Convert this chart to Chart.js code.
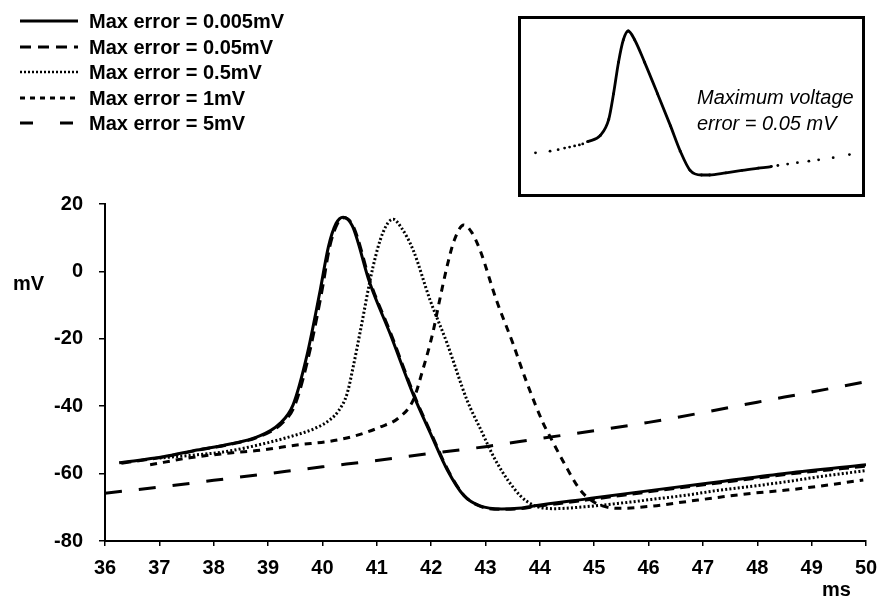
<!DOCTYPE html>
<html>
<head>
<meta charset="utf-8">
<script src="https://cdn.jsdelivr.net/npm/chart.js@4.4.1/dist/chart.umd.min.js"></script>
<style>
  html, body { margin:0; padding:0; background:#fff; }
  #wrap { position:relative; width:877px; height:596px; overflow:hidden; font-family:"Liberation Sans", Arial, sans-serif; }
  #main { position:absolute; left:0; top:0; }
  .lbl { position:absolute; font-weight:bold; font-size:20px; color:#000; white-space:nowrap; line-height:20px; }
  .leg { position:absolute; left:0; height:24px; width:300px; }
  .leg svg { position:absolute; left:0; top:0; }
  .leg span { position:absolute; left:89px; top:2px; font-weight:bold; font-size:20px; line-height:20px; white-space:nowrap; }
  #insetBox { position:absolute; left:518px; top:16px; width:341px; height:175px; border:3px solid #000; background:#fff; }
  #insetBox canvas { position:absolute; left:0; top:0; }
  .it { position:absolute; font-style:italic; font-size:20px; line-height:22px; white-space:nowrap; color:#000; }
</style>
</head>
<body>
<div id="wrap">
  <canvas id="main" width="877" height="596"></canvas>
  <div id="legend"></div>
  <div class="lbl" style="left:13px; top:273px;">mV</div>
  <div class="lbl" style="left:822px; top:579px;">ms</div>
  <div id="insetBox"><canvas id="inset" width="341" height="175"></canvas></div>
  <div class="it" style="left:697px; top:86px;">Maximum voltage</div>
  <div class="it" style="left:697px; top:112px;">error = 0.05 mV</div>
</div>
<script>
// ---- Data ----
const xTicks = [36,37,38,39,40,41,42,43,44,45,46,47,48,49,50];
const yTicks = [-80,-60,-40,-20,0,20];

const seriesNames = ["Max error = 0.005mV","Max error = 0.05mV","Max error = 0.5mV","Max error = 1mV","Max error = 5mV"];

// 0.005 mV (solid)
const t005 = [36.26,37.07,37.69,38.3,38.79,39.22,39.46,39.71,39.96,40.11,40.25,40.38,40.55,40.87,41.24,41.67,42.0,42.3,42.6,42.9,43.3,43.6,43.88,44.86,46.09,47.31,48.54,50.0];
const v005 = [-56.8,-55.0,-53.0,-51.2,-49.2,-45.1,-39.6,-25.3,-5.5,7.3,14.2,16.1,13.5,-3.4,-18.3,-36.5,-48.5,-59.0,-66.5,-69.6,-70.5,-70.3,-69.6,-67.5,-64.9,-62.4,-59.9,-57.4];

// 0.05 mV (dashed, nearly on top of the solid trace)
const t05a = [36.3,37.07,37.69,38.3,38.79,39.24,39.49,39.74,39.99,40.13,40.27,40.4,40.57,40.89,41.26,41.69,42.02,42.32,42.62,42.92,43.32,43.62,43.9,44.88,46.1,47.32,48.55,50.0];
const v05a = [-56.9,-55.1,-53.1,-51.3,-49.3,-45.3,-39.8,-25.6,-5.9,7.0,14.0,15.9,13.3,-3.6,-18.5,-36.8,-48.8,-59.3,-66.7,-69.8,-70.6,-70.4,-69.8,-67.8,-65.2,-62.7,-60.2,-57.8];

// 0.5 mV (dotted)
const t5a = [37.0,37.7,38.17,38.6,39.35,39.9,40.14,40.3,40.45,40.57,40.69,40.93,41.11,41.3,41.45,41.67,41.98,42.29,42.66,42.9,43.2,43.63,43.9,44.25,44.86,45.47,46.09,46.7,47.31,47.93,48.54,49.15,50.0];
const v5a = [-55.4,-54.4,-53.6,-52.3,-49.3,-46.3,-44.0,-41.3,-36.5,-28.0,-18.3,1.3,11.4,15.5,13.0,6.3,-8.5,-21.2,-38.2,-46.5,-56.5,-66.4,-69.5,-70.4,-69.8,-68.8,-67.6,-66.4,-64.9,-63.7,-62.4,-60.9,-59.1];

// 1 mV (short dashes)
const t1 = [36.83,37.56,38.3,38.9,39.53,40.14,40.6,41.06,41.4,41.67,41.85,42.03,42.15,42.29,42.42,42.6,42.75,42.9,43.2,43.5,43.76,44.06,44.19,44.45,44.74,44.95,45.2,45.47,46.09,46.7,47.31,47.93,48.54,49.15,49.95];
const v1 = [-57.4,-55.3,-53.9,-53.0,-51.5,-50.4,-48.8,-46.2,-43.5,-38.2,-29.0,-18.3,-9.0,1.3,9.0,13.8,11.5,6.3,-8.5,-21.2,-33.0,-45.0,-49.1,-57.0,-64.8,-68.0,-69.8,-70.3,-69.6,-68.3,-67.0,-65.8,-64.9,-63.7,-61.9];

// 5 mV (long dashes)
const t5 = [36.0,37.0,38.0,39.0,40.0,41.0,42.0,43.0,44.0,45.0,46.0,47.0,48.0,49.0,50.0];
const v5 = [-65.8,-64.0,-62.0,-60.0,-58.0,-56.1,-54.0,-52.0,-49.6,-47.3,-44.8,-41.9,-38.8,-35.8,-32.7];

// Inset: sampled points of the 0.05 mV trace
const tIn = [36.48,37.09,37.43,37.7,37.91,38.12,38.32,38.46,38.66,39.2,39.55,39.75,39.96,40.16,40.37,40.64,41.05,41.6,42.14,42.55,42.96,43.44,43.78,44.46,45.14,45.82,46.37,46.64,47.05,47.46,47.94,48.35,48.96,49.64];
const vIn = [-57.1,-56.1,-55.2,-54.2,-53.6,-52.9,-52.3,-51.7,-50.4,-46.6,-37.0,-21.7,-2.6,10.7,16.1,10.7,-2.6,-21.7,-40.9,-56.1,-67.6,-70.4,-70.4,-69.1,-67.6,-66.3,-65.3,-64.7,-63.8,-63.0,-62.1,-61.3,-60.0,-58.1];

// ---- Styles ----
const styles = [
  {w:3,   dash:[],      legDash:"",       legW:3},
  {w:3,   dash:[10,6],  legDash:"11 7",   legW:3},
  {w:3,   dash:[2,2.2], legDash:"2 2",    legW:2.5},
  {w:3,   dash:[7,6],   legDash:"5 5",    legW:3},
  {w:3,   dash:[17,17], legDash:"13 27",  legW:3}
];

function pts(t, v){ return t.map((x,i)=>({x:x, y:v[i]})); }
const allSeries = [[t005,v005],[t05a,v05a],[t5a,v5a],[t1,v1],[t5,v5]];

Chart.defaults.font.family = '"Liberation Sans", Arial, sans-serif';
Chart.defaults.color = '#000';

const datasets = allSeries.map((s,i)=>({
  label: seriesNames[i],
  data: pts(s[0], s[1]),
  borderColor:'#000',
  backgroundColor:'#000',
  borderWidth: styles[i].w,
  borderDash: styles[i].dash,
  pointRadius:0,
  fill:false,
  cubicInterpolationMode:'monotone',
  borderCapStyle:'butt'
}));

new Chart(document.getElementById('main'), {
  type:'line',
  data:{ datasets },
  options:{
    responsive:false,
    animation:false,
    events:[],
    layout:{ padding:{ top:204, left:0, right:11, bottom:0 } },
    plugins:{ legend:{display:false}, tooltip:{enabled:false} },
    scales:{
      x:{
        type:'linear', min:36, max:50,
        afterBuildTicks: sc => { sc.ticks = xTicks.map(v=>({value:v})); },
        afterFit: sc => { sc.height = 55; sc.paddingLeft = 0; sc.paddingRight = 0; },
        ticks:{ font:{size:20, weight:'bold'}, padding:10, maxRotation:0, autoSkip:false, color:'#000' },
        grid:{ drawOnChartArea:false, drawTicks:true, tickLength:5, color:'#000', lineWidth:1.5 },
        border:{ display:true, color:'#000', width:2 }
      },
      y:{
        type:'linear', min:-80, max:20,
        afterBuildTicks: sc => { sc.ticks = yTicks.map(v=>({value:v})); },
        afterFit: sc => { sc.width = 105; sc.paddingTop = 0; sc.paddingBottom = 0; },
        ticks:{ font:{size:20, weight:'bold'}, padding:16, color:'#000' },
        grid:{ drawOnChartArea:false, drawTicks:true, tickLength:6, color:'#000', lineWidth:1.5 },
        border:{ display:true, color:'#000', width:2 }
      }
    }
  }
});

// Inset chart
new Chart(document.getElementById('inset'), {
  type:'line',
  data:{ datasets:[{
    data: pts(tIn, vIn),
    borderColor:'#000',
    backgroundColor:'#000',
    borderWidth:2.8,
    pointRadius:1.4,
    pointBorderWidth:0,
    cubicInterpolationMode:'monotone',
    segment:{
      borderColor: c => (c.p0.parsed.x >= 38.6 && c.p1.parsed.x <= 46.4) ? '#000' : 'rgba(0,0,0,0)'
    }
  }]},
  options:{
    responsive:false, animation:false, events:[],
    layout:{ padding:0 },
    plugins:{ legend:{display:false}, tooltip:{enabled:false} },
    scales:{
      x:{ type:'linear', min:36.04, max:50, display:false },
      y:{ type:'linear', min:-79.4, max:20.9, display:false }
    }
  }
});

// Legend (HTML text with drawn line samples)
const legTops = [9, 34.5, 60, 85.5, 111];
const legend = document.getElementById('legend');
seriesNames.forEach((name,i)=>{
  const row = document.createElement('div');
  row.className = 'leg';
  row.style.top = legTops[i] + 'px';
  const svgNS = 'http://www.w3.org/2000/svg';
  const svg = document.createElementNS(svgNS,'svg');
  svg.setAttribute('width','85'); svg.setAttribute('height','24');
  const ln = document.createElementNS(svgNS,'line');
  ln.setAttribute('x1','20'); ln.setAttribute('x2', i===4 ? '73' : '78');
  ln.setAttribute('y1','12'); ln.setAttribute('y2','12');
  ln.setAttribute('stroke','#000');
  ln.setAttribute('stroke-width', styles[i].legW);
  if (styles[i].legDash) ln.setAttribute('stroke-dasharray', styles[i].legDash);
  svg.appendChild(ln);
  row.appendChild(svg);
  const sp = document.createElement('span');
  sp.textContent = name;
  row.appendChild(sp);
  legend.appendChild(row);
});
</script>
</body>
</html>
